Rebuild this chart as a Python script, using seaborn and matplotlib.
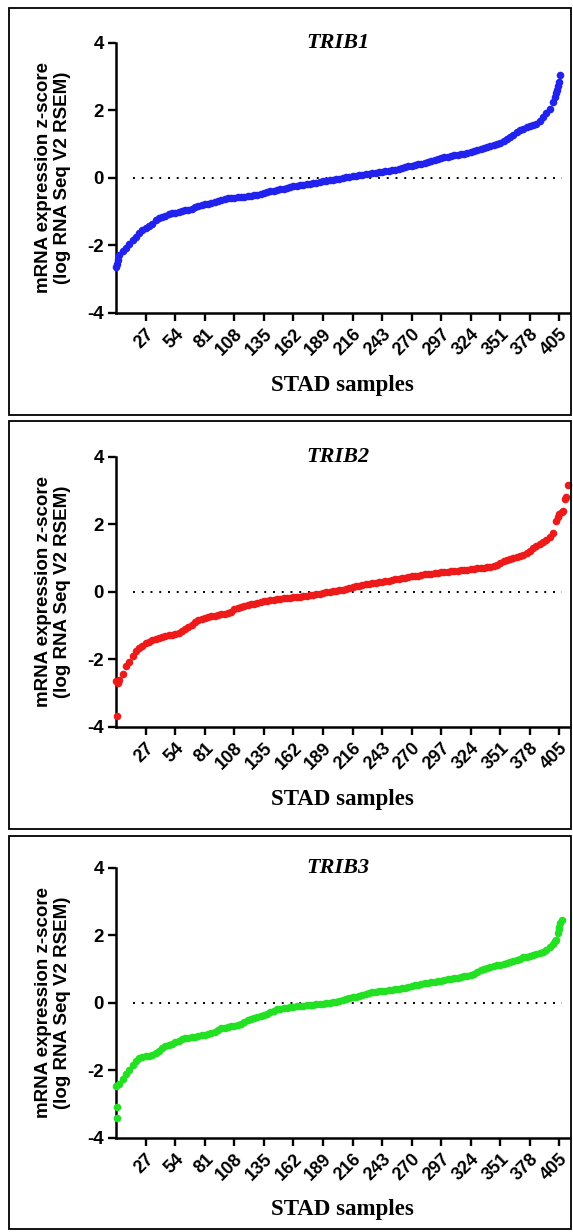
import pandas as pd
import seaborn as sns
import matplotlib.pyplot as plt
from matplotlib.patches import Rectangle

# sorted z-scores, one value every 3 samples (0, 3, ..., 405)
sample_pos = list(range(0, 406, 3))

trib1 = [-2.64, -2.30, -2.16, -2.07, -1.97, -1.85, -1.75, -1.64, -1.55, -1.49,
         -1.44, -1.36, -1.24, -1.19, -1.15, -1.12, -1.09, -1.06, -1.04, -1.02,
         -0.99, -0.97, -0.95, -0.93, -0.88, -0.85, -0.82, -0.79, -0.77, -0.75,
         -0.72, -0.69, -0.66, -0.63, -0.61, -0.60, -0.59, -0.58, -0.57, -0.56,
         -0.55, -0.54, -0.52, -0.50, -0.47, -0.44, -0.42, -0.40, -0.38, -0.36,
         -0.34, -0.32, -0.30, -0.28, -0.26, -0.25, -0.23, -0.21, -0.20, -0.18,
         -0.17, -0.15, -0.13, -0.11, -0.10, -0.08, -0.06, -0.05, -0.03, -0.01,
         0.01, 0.03, 0.05, 0.06, 0.08, 0.09, 0.10, 0.11, 0.13, 0.14,
         0.16, 0.18, 0.19, 0.21, 0.22, 0.24, 0.27, 0.29, 0.31, 0.34,
         0.36, 0.38, 0.40, 0.42, 0.44, 0.46, 0.49, 0.52, 0.55, 0.58,
         0.60, 0.62, 0.64, 0.66, 0.68, 0.69, 0.70, 0.73, 0.76, 0.79,
         0.82, 0.85, 0.88, 0.90, 0.93, 0.96, 0.99, 1.03, 1.09, 1.15,
         1.21, 1.28, 1.34, 1.41, 1.45, 1.50, 1.53, 1.56, 1.59, 1.67,
         1.80, 1.92, 2.05, 2.25, 2.50, 2.85]
trib1_tail_x = [1, 2, 401, 403, 404, 406]
trib1_tail_y = [-2.55, -2.44, 2.38, 2.60, 2.72, 3.05]

trib2 = [-2.66, -2.62, -2.43, -2.19, -2.07, -1.90, -1.77, -1.68, -1.60, -1.53,
         -1.48, -1.44, -1.41, -1.37, -1.34, -1.31, -1.29, -1.27, -1.25, -1.21,
         -1.16, -1.11, -1.06, -0.99, -0.90, -0.85, -0.81, -0.78, -0.76, -0.73,
         -0.71, -0.69, -0.67, -0.65, -0.63, -0.60, -0.52, -0.49, -0.45, -0.42,
         -0.40, -0.37, -0.35, -0.33, -0.31, -0.29, -0.27, -0.25, -0.24, -0.22,
         -0.21, -0.20, -0.19, -0.18, -0.17, -0.16, -0.15, -0.14, -0.13, -0.11,
         -0.10, -0.08, -0.06, -0.04, -0.02, -0.01, 0.01, 0.03, 0.05, 0.06,
         0.09, 0.11, 0.14, 0.16, 0.18, 0.20, 0.22, 0.24, 0.26, 0.27,
         0.29, 0.30, 0.32, 0.33, 0.35, 0.37, 0.39, 0.41, 0.42, 0.44,
         0.46, 0.47, 0.48, 0.49, 0.51, 0.52, 0.53, 0.55, 0.56, 0.57,
         0.58, 0.59, 0.60, 0.61, 0.62, 0.63, 0.64, 0.65, 0.66, 0.68,
         0.69, 0.70, 0.71, 0.73, 0.74, 0.77, 0.80, 0.85, 0.92, 0.95,
         0.98, 1.00, 1.02, 1.06, 1.10, 1.14, 1.20, 1.30, 1.36, 1.42,
         1.47, 1.54, 1.62, 1.75, 2.10, 2.30]
trib2_tail_x = [0.5, 1.5, 403.5, 407, 408, 410, 411, 412.5]
trib2_tail_y = [-3.68, -2.70, 2.20, 2.35, 2.38, 2.76, 2.80, 3.15]

trib3 = [-2.46, -2.40, -2.25, -2.11, -1.98, -1.86, -1.73, -1.64, -1.60, -1.58,
         -1.57, -1.55, -1.50, -1.42, -1.35, -1.29, -1.25, -1.21, -1.17, -1.13,
         -1.09, -1.06, -1.04, -1.03, -1.01, -1.00, -0.97, -0.95, -0.93, -0.91,
         -0.88, -0.80, -0.76, -0.74, -0.72, -0.70, -0.68, -0.66, -0.62, -0.56,
         -0.52, -0.48, -0.45, -0.42, -0.38, -0.35, -0.32, -0.28, -0.24, -0.20,
         -0.18, -0.17, -0.15, -0.13, -0.12, -0.11, -0.10, -0.09, -0.08, -0.07,
         -0.06, -0.05, -0.04, -0.03, -0.02, -0.01, 0.01, 0.03, 0.06, 0.08,
         0.11, 0.14, 0.16, 0.18, 0.21, 0.24, 0.27, 0.29, 0.31, 0.32,
         0.34, 0.35, 0.36, 0.37, 0.38, 0.40, 0.41, 0.43, 0.45, 0.47,
         0.49, 0.51, 0.53, 0.55, 0.57, 0.58, 0.60, 0.62, 0.63, 0.65,
         0.67, 0.69, 0.71, 0.72, 0.74, 0.76, 0.78, 0.80, 0.83, 0.86,
         0.90, 0.96, 1.01, 1.04, 1.06, 1.09, 1.11, 1.13, 1.16, 1.18,
         1.21, 1.24, 1.27, 1.30, 1.34, 1.36, 1.38, 1.41, 1.44, 1.47,
         1.51, 1.56, 1.64, 1.75, 1.85, 2.25]
trib3_tail_x = [0.5, 1.0, 401, 403.5, 404.5, 406, 407]
trib3_tail_y = [-3.42, -3.09, 1.82, 2.08, 2.18, 2.36, 2.45]

genes = ["TRIB1", "TRIB2", "TRIB3"]
colors = ["#2222ee", "#ee1a1a", "#22e022"]
x_ticks = [27, 54, 81, 108, 135, 162, 189, 216, 243, 270, 297, 324, 351, 378, 405]
y_ticks = [-4, -2, 0, 2, 4]

series = [(trib1, trib1_tail_x, trib1_tail_y),
          (trib2, trib2_tail_x, trib2_tail_y),
          (trib3, trib3_tail_x, trib3_tail_y)]

sns.set_style("ticks")
plt.rcParams['font.family'] = ['Liberation Sans', 'DejaVu Sans']
plt.rcParams['font.weight'] = 'bold'
plt.rcParams['text.color'] = 'black'

W, H = 573, 1232
fig = plt.figure(figsize=(W / 100, H / 100), dpi=100)

ax_tops = [42.7, 456.7, 867.7]   # pixel row of y = 4
boxes = [(8, 415), (421, 829), (836, 1229)]

for i in range(3):
    vals, tx, ty = series[i]
    top = ax_tops[i]
    ax = fig.add_axes([116.2 / W, 1 - (top + 270) / H, 453 / W, 270 / H])

    df = pd.DataFrame({"sample": sample_pos + tx, "z": vals + ty})
    sns.scatterplot(data=df, x="sample", y="z", color=colors[i], s=30,
                    linewidth=0, ax=ax, clip_on=False, zorder=3)
    ax.hlines(0, 15, 407, colors="black", linestyles=(0, (1, 3.5)), linewidth=1.4)

    ax.set_xlim(0, 414)
    ax.set_ylim(-4, 4)
    ax.set_yticks(y_ticks)
    ax.set_yticklabels([str(v) for v in y_ticks], fontsize=13.5, fontweight="bold")
    ax.set_xticks(x_ticks)
    ax.set_xticklabels([str(v) for v in x_ticks], fontsize=13, fontweight="bold",
                       rotation=45, ha="right", va="top", rotation_mode="anchor")
    ax.set_xlabel("")
    ax.set_ylabel("")
    for side in ["top", "right"]:
        ax.spines[side].set_visible(False)
    for side in ["left", "bottom"]:
        ax.spines[side].set_linewidth(1.8)
        ax.spines[side].set_color("black")
    ax.tick_params(direction="out", length=6, width=1.7, colors="black", pad=3)

    ax.text(0.49, 1.0, genes[i], transform=ax.transAxes, ha="center", va="center",
            family="Liberation Serif", style="italic", fontweight="bold", fontsize=16,
            color="black")
    fig.text(342 / W, 1 - (top + 342.3) / H, "STAD samples", ha="center", va="center",
             family="Liberation Serif", fontweight="bold", fontsize=16.5, color="black")
    fig.text(53 / W, 1 - (top + 135) / H,
             "mRNA expression z-score\n(log RNA Seq V2 RSEM)",
             rotation=90, ha="center", va="center", multialignment="center",
             fontsize=13.5, fontweight="bold", color="black", linespacing=1.15)

    b0, b1 = boxes[i]
    fig.add_artist(Rectangle((9 / W, 1 - b1 / H), 562 / W, (b1 - b0) / H,
                             transform=fig.transFigure, fill=False,
                             edgecolor="black", linewidth=1.3))

fig.savefig("out.png", dpi=100)
